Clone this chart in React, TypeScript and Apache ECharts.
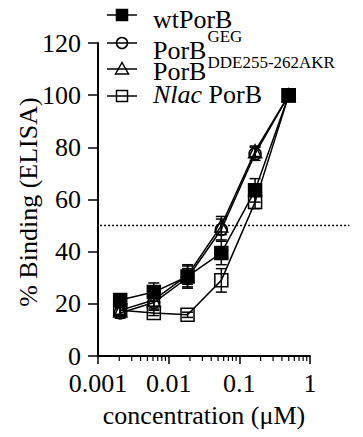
import React, { useEffect, useRef } from "react";
import * as echarts from "echarts";

// x values: concentration (µM), 3-fold dilutions
const concentrations = [0.00206, 0.00617, 0.0185, 0.0556, 0.167, 0.5];

const wtPorB = [21.5, 24.5, 30.5, 39.5, 63.5, 100];
const wtPorBErr = [2, 3.5, 4.5, 4.5, 4.5, 0];

const porBGEG = [16.5, 20.5, 30, 48.5, 77.5, 100];
const porBGEGErr = [2, 2.5, 3.5, 4, 2.5, 0];

const porBDDE = [17.5, 21.5, 31, 50, 78.5, 100];
const porBDDEErr = [2, 2.5, 3.5, 3.5, 2, 0];

const nlacPorB = [17.5, 16.5, 15.8, 29, 59, 100];
const nlacPorBErr = [1.5, 1, 1, 4.5, 2.5, 0];

const threshold = 50;
const thresholdSpan = [0.00107, 3.6];

const yTicks = [0, 20, 40, 60, 80, 100, 120];
const xTickValues = [0.001, 0.01, 0.1, 1];
const xTickLabels = ["0.001", "0.01", "0.1", "1"];
const minorTickValues = [
  0.002, 0.003, 0.004, 0.005, 0.006, 0.007, 0.008, 0.009,
  0.02, 0.03, 0.04, 0.05, 0.06, 0.07, 0.08, 0.09,
  0.2, 0.3, 0.4, 0.5, 0.6, 0.7, 0.8, 0.9,
];

const xTitle = "concentration (μM)";
const yTitle = "% Binding (ELISA)";

// legend pieces: italic prefix, main text, superscript
const legendItalic = ["", "", "", "Nlac"];
const legendMain = ["wtPorB", "PorB", "PorB", "PorB"];
const legendSup = ["", "GEG", "DDE255-262AKR", ""];

const FONT = "Liberation Serif";
const FS = 26;
const SUP_FS = 17;

const pairs = (vals: number[]) => concentrations.map((c, i) => [c, vals[i]]);
const errTriples = (vals: number[], errs: number[]) =>
  concentrations.map((c, i) => [c, vals[i], errs[i]]);

const measure = (t: string, size: number, italic = false) => {
  const c = document.createElement("canvas").getContext("2d");
  if (!c) return t.length * size * 0.5;
  c.font = `${italic ? "italic " : ""}${size}px "${FONT}"`;
  return c.measureText(t).width;
};

export default function App() {
  const ref = useRef<HTMLDivElement>(null);

  useEffect(() => {
    if (!ref.current) return;
    const chart = echarts.init(ref.current, null, { renderer: "svg" });

    const lineSeries = (
      name: string,
      vals: number[],
      symbol: string,
      size: number,
      filled: boolean,
      z: number
    ) => ({
      type: "line",
      name,
      data: pairs(vals),
      symbol,
      symbolSize: size,
      showSymbol: true,
      z,
      lineStyle: { color: "#000", width: 1.5 },
      itemStyle: {
        color: filled ? "#000" : "rgba(255,255,255,0)",
        borderColor: "#000",
        borderWidth: 1.5,
      },
      emphasis: { disabled: true },
    });

    const errSeries = (vals: number[], errs: number[]) => ({
      type: "custom",
      data: errTriples(vals, errs),
      encode: { x: 0, y: 1 },
      z: 1,
      clip: false,
      silent: true,
      renderItem: (_p: any, api: any) => {
        const x = api.value(0);
        const y = api.value(1);
        const e = api.value(2);
        if (!e) return null;
        const t = api.coord([x, y + e]);
        const b = api.coord([x, y - e]);
        const hw = 5.5;
        const st = { stroke: "#000", lineWidth: 1.5 };
        return {
          type: "group",
          children: [
            { type: "line", shape: { x1: t[0], y1: t[1], x2: b[0], y2: b[1] }, style: st },
            { type: "line", shape: { x1: t[0] - hw, y1: t[1], x2: t[0] + hw, y2: t[1] }, style: st },
            { type: "line", shape: { x1: b[0] - hw, y1: b[1], x2: b[0] + hw, y2: b[1] }, style: st },
          ],
        };
      },
    });

    chart.setOption({
      animation: false,
      textStyle: { fontFamily: FONT },
      grid: { left: 98, right: 53, top: 43, bottom: 81, containLabel: false },
      xAxis: {
        type: "log",
        logBase: 10,
        min: xTickValues[0],
        max: xTickValues[xTickValues.length - 1],
        axisLine: { show: true, onZero: false, lineStyle: { color: "#000", width: 2 } },
        axisTick: { show: true, length: 8, lineStyle: { color: "#000", width: 1.5 } },
        axisLabel: { show: false },
        splitLine: { show: false },
      },
      yAxis: {
        type: "value",
        min: yTicks[0],
        max: yTicks[yTicks.length - 1],
        interval: 20,
        axisLine: { show: true, lineStyle: { color: "#000", width: 2 } },
        axisTick: { show: true, length: 10, lineStyle: { color: "#000", width: 1.5 } },
        axisLabel: { show: false },
        splitLine: { show: false },
      },
      series: [
        {
          type: "custom",
          data: minorTickValues.map((v) => [v, 0]),
          encode: { x: 0, y: 1 },
          clip: false,
          silent: true,
          z: 1,
          renderItem: (_p: any, api: any) => {
            const p = api.coord([api.value(0), 0]);
            return {
              type: "line",
              shape: { x1: p[0], y1: p[1], x2: p[0], y2: p[1] + 5 },
              style: { stroke: "#000", lineWidth: 1.2 },
            };
          },
        },
        errSeries(nlacPorB, nlacPorBErr),
        errSeries(porBDDE, porBDDEErr),
        errSeries(porBGEG, porBGEGErr),
        errSeries(wtPorB, wtPorBErr),
        lineSeries("Nlac PorB", nlacPorB, "rect", 13, false, 3),
        lineSeries("PorB DDE255-262AKR", porBDDE, "triangle", 13, false, 4),
        lineSeries("PorB GEG", porBGEG, "circle", 12, false, 5),
        lineSeries("wtPorB", wtPorB, "rect", 13, true, 6),
      ],
    });

    const px = (x: number, y: number) =>
      chart.convertToPixel({ gridIndex: 0 }, [x, y]) as number[];

    const T = (text: string, x: number, y: number, o: any = {}) => ({
      type: "text",
      x,
      y,
      rotation: o.rot || 0,
      silent: true,
      z: 100,
      style: {
        text,
        fontFamily: FONT,
        fontSize: o.size || FS,
        fontStyle: o.italic ? "italic" : "normal",
        fill: "#000",
        align: o.align || "left",
        verticalAlign: "middle",
      },
    });

    const origin = px(xTickValues[0], yTicks[0]);
    const axisX = origin[0];
    const axisY = origin[1];
    const els: any[] = [];

    // threshold dotted line
    const a = px(thresholdSpan[0], threshold);
    const b = px(thresholdSpan[1], threshold);
    els.push({
      type: "line",
      silent: true,
      shape: { x1: a[0], y1: a[1], x2: b[0], y2: b[1] },
      style: { stroke: "#000", lineWidth: 1.5, lineDash: [2, 2] },
    });

    // y tick labels
    yTicks.forEach((v) => {
      const p = px(xTickValues[0], v);
      els.push(T(String(v), axisX - 17, p[1], { align: "right" }));
    });
    // x tick labels
    xTickValues.forEach((v, i) => {
      const p = px(v, yTicks[0]);
      els.push(T(xTickLabels[i], p[0], axisY + 27, { align: "center" }));
    });
    // axis titles
    const xMid = px(Math.sqrt(xTickValues[0] * xTickValues[xTickValues.length - 1]), yTicks[0]);
    els.push(T(xTitle, xMid[0], axisY + 59, { align: "center" }));
    const yMid = px(xTickValues[0], 59);
    els.push(T(yTitle, axisX - 70, yMid[1], { align: "center", rot: Math.PI / 2 }));

    // legend
    const rowIcon = [15, 43, 69, 96];
    const rowText = [19, 50, 71, 94];
    const rowSup = [0, 36, 62, 0];
    const lx1 = 107;
    const lx2 = 137;
    const cx = (lx1 + lx2) / 2;
    const tx = 153;
    const stroke = { stroke: "#000", lineWidth: 1.5 };
    rowIcon.forEach((ry, i) => {
      els.push({ type: "line", silent: true, shape: { x1: lx1, y1: ry, x2: lx2, y2: ry }, style: stroke });
      if (i === 0) {
        els.push({ type: "rect", silent: true, shape: { x: cx - 5.5, y: ry - 5.5, width: 11, height: 11 }, style: { fill: "#000", ...stroke } });
      } else if (i === 1) {
        els.push({ type: "circle", silent: true, shape: { cx, cy: ry, r: 5.5 }, style: { fill: "none", ...stroke } });
      } else if (i === 2) {
        els.push({ type: "polygon", silent: true, shape: { points: [[cx, ry - 6.5], [cx - 6.5, ry + 5], [cx + 6.5, ry + 5]] }, style: { fill: "none", ...stroke } });
      } else {
        els.push({ type: "rect", silent: true, shape: { x: cx - 5.5, y: ry - 5.5, width: 11, height: 11 }, style: { fill: "none", ...stroke } });
      }
      let x = tx;
      if (legendItalic[i]) {
        els.push(T(legendItalic[i], x, rowText[i], { italic: true }));
        x += measure(legendItalic[i] + " ", FS, true);
      }
      els.push(T(legendMain[i], x, rowText[i]));
      x += measure(legendMain[i], FS) + 1;
      if (legendSup[i]) {
        els.push(T(legendSup[i], x, rowSup[i], { size: SUP_FS }));
      }
    });

    chart.setOption({ graphic: els });

    return () => chart.dispose();
  }, []);

  return (
    <div
      ref={ref}
      style={{ position: "fixed", left: 0, top: 0, width: 363, height: 437, background: "#fff" }}
    />
  );
}
